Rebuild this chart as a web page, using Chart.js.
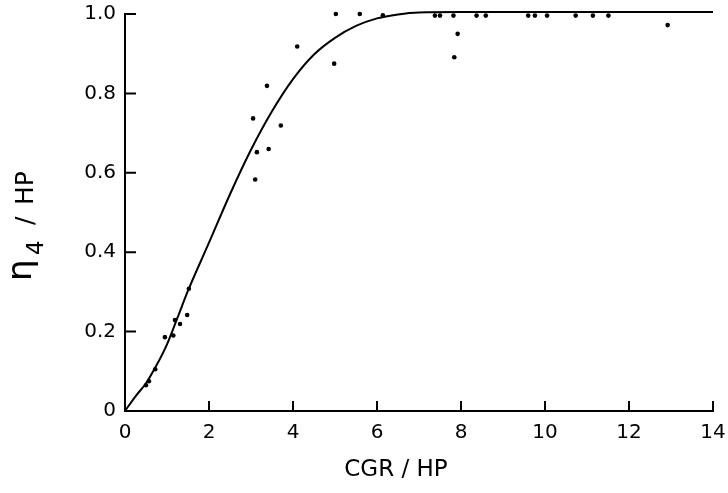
<!DOCTYPE html>
<html>
<head>
<meta charset="utf-8">
<script src="https://cdn.jsdelivr.net/npm/chart.js@4"></script>
<style>
  html, body { margin: 0; padding: 0; background: #fff; }
  #wrap { width: 728px; height: 493px; }
</style>
</head>
<body>
<div id="wrap"><canvas id="myChart" width="728" height="493"></canvas></div>
<script>
// measured points (CGR/HP , eta4/HP)
const pointX = [0.50, 0.57, 0.72, 0.95, 1.15, 1.19, 1.31, 1.48, 1.52,
  3.05, 3.10, 3.14, 3.38, 3.42, 3.71, 4.10, 4.98, 5.02, 5.59, 6.14,
  7.38, 7.50, 7.82, 7.84, 7.92, 8.37, 8.59, 9.60, 9.76, 10.05, 10.73, 11.14, 11.51, 12.92];
const pointY = [0.065, 0.075, 0.105, 0.186, 0.19, 0.229, 0.219, 0.242, 0.308,
  0.737, 0.583, 0.652, 0.819, 0.660, 0.719, 0.918, 0.875, 1.0, 1.0, 0.997,
  0.996, 0.996, 0.996, 0.891, 0.950, 0.996, 0.996, 0.996, 0.996, 0.996, 0.996, 0.996, 0.996, 0.972];

// fitted curve
const curveX = [0, 0.25, 0.5, 0.75, 1.0, 1.25, 1.5, 2.0, 2.5, 3.0, 3.5, 4.0, 4.5, 5.0, 5.5, 6.0, 6.5, 7.0, 8.0, 10.0, 12.0, 14.0];
const curveY = [0, 0.037, 0.07, 0.115, 0.168, 0.235, 0.303, 0.424, 0.546, 0.658, 0.755, 0.836, 0.898, 0.94, 0.97, 0.989, 0.999, 1.004, 1.005, 1.005, 1.005, 1.005];

const xTicks = [0, 2, 4, 6, 8, 10, 12, 14];
const yTicks = [0, 0.2, 0.4, 0.6, 0.8, 1.0];

const font = 'DejaVu Sans';

// inward tick marks + axis titles
const paperAxes = {
  id: 'paperAxes',
  afterDraw(chart) {
    const c = chart.ctx;
    const xs = chart.scales.x, ys = chart.scales.y;
    const a = chart.chartArea;
    c.save();
    c.strokeStyle = '#000';
    c.lineWidth = 2;
    c.beginPath();
    yTicks.forEach(v => {
      if (v === 0) return;
      const py = ys.getPixelForValue(v);
      c.moveTo(a.left, py); c.lineTo(a.left + 11, py);
    });
    xTicks.forEach(v => {
      if (v === 0) return;
      const px = xs.getPixelForValue(v);
      c.moveTo(px, a.bottom); c.lineTo(px, a.bottom - 10);
    });
    c.stroke();

    c.fillStyle = '#000';
    // x title
    c.font = '23px "' + font + '"';
    c.textAlign = 'center';
    c.textBaseline = 'middle';
    c.fillText('CGR / HP', 396, 470);

    // y title, rotated, eta with subscript 4
    c.translate(33, 281);
    c.rotate(-Math.PI / 2);
    c.textAlign = 'left';
    c.textBaseline = 'alphabetic';
    c.font = '34px "' + font + '"';
    c.fillText('η', 0, -2);
    c.font = '23px "' + font + '"';
    c.fillText('4', 26, 10);
    c.font = '25px "' + font + '"';
    c.fillText('/', 56, 0);
    c.fillText('HP', 76, 0);
    c.restore();
  }
};

new Chart(document.getElementById('myChart'), {
  type: 'scatter',
  data: {
    datasets: [
      {
        label: 'data',
        data: pointX.map((x, i) => ({ x: x, y: pointY[i] })),
        backgroundColor: '#000',
        borderColor: '#000',
        pointRadius: 2.3,
        pointBorderWidth: 0,
        clip: false
      },
      {
        label: 'curve',
        type: 'line',
        data: curveX.map((x, i) => ({ x: x, y: curveY[i] })),
        borderColor: '#000',
        borderWidth: 2,
        pointRadius: 0,
        fill: false,
        cubicInterpolationMode: 'monotone',
        clip: false
      }
    ]
  },
  options: {
    responsive: false,
    animation: false,
    layout: { padding: { top: 14, right: 15, left: 0, bottom: 0 } },
    plugins: { legend: { display: false }, tooltip: { enabled: false } },
    scales: {
      x: {
        type: 'linear',
        min: 0, max: 14,
        afterBuildTicks: s => { s.ticks = xTicks.map(v => ({ value: v })); },
        afterFit: s => { s.height = 82; s.paddingLeft = 0; s.paddingRight = 0; },
        grid: { display: false, drawTicks: false },
        border: { display: true, color: '#000', width: 2 },
        ticks: { color: '#000', padding: 10, font: { family: font, size: 20 } }
      },
      y: {
        type: 'linear',
        min: 0, max: 1,
        afterBuildTicks: s => { s.ticks = yTicks.map(v => ({ value: v })); },
        afterFit: s => { s.width = 125; s.paddingTop = 0; s.paddingBottom = 0; },
        grid: { display: false, drawTicks: false },
        border: { display: true, color: '#000', width: 2 },
        ticks: {
          color: '#000', padding: 9, font: { family: font, size: 20 },
          callback: v => v === 0 ? '0' : v.toFixed(1)
        }
      }
    }
  },
  plugins: [paperAxes]
});
</script>
</body>
</html>
